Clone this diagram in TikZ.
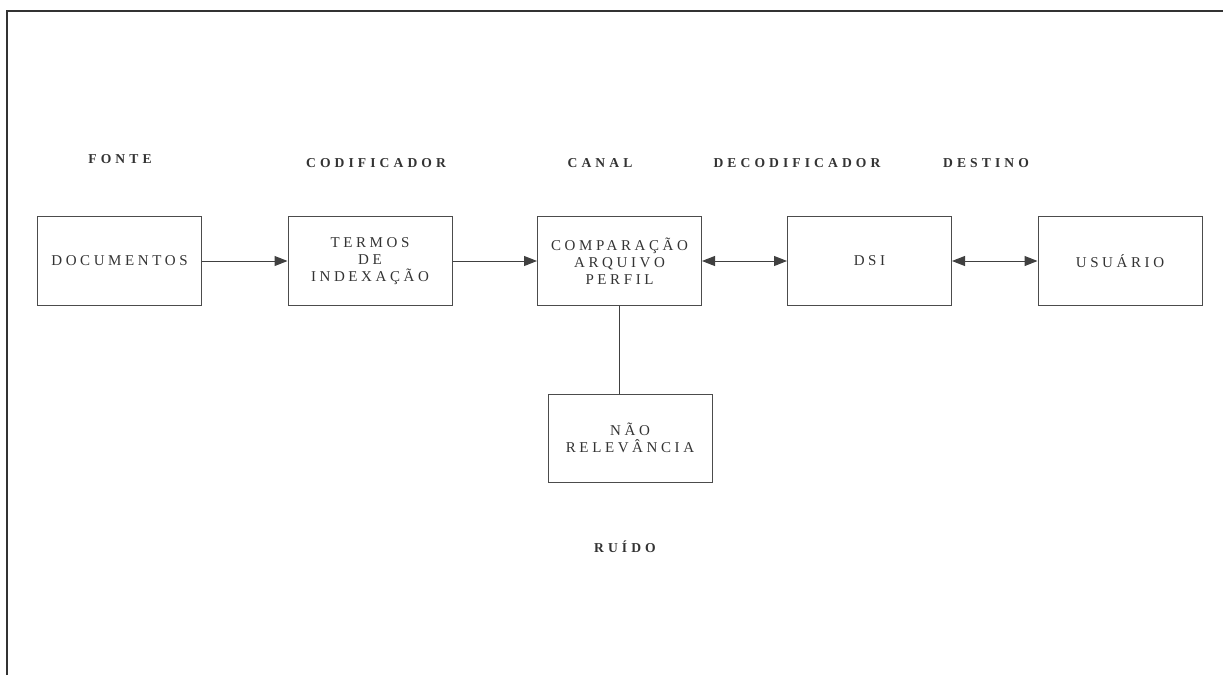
\documentclass[tikz,border=0pt]{standalone}
\usepackage{fontspec}
\setmainfont{Liberation Serif}
\usetikzlibrary{arrows.meta}
\newfontfamily\boxfont[LetterSpace=24]{Liberation Serif}
\newfontfamily\headfont[LetterSpace=30]{Liberation Serif}
\begin{document}
\begin{tikzpicture}[x=1pt,y=-1pt,
  bloco/.style={draw=black!70,line width=1pt,minimum width=164pt,minimum height=89pt,
    inner sep=0pt,align=center,text=black!80,font=\fontsize{15}{17}\boxfont},
  titulo/.style={font=\fontsize{13.6}{15}\headfont\bfseries,text=black!80},
  seta/.style={draw=black!75,line width=1pt,-{Triangle[length=13pt,width=10pt]}},
  seta2/.style={seta,{Triangle[length=13pt,width=10pt]}-{Triangle[length=13pt,width=10pt]}}]
\useasboundingbox (0,0) rectangle (1223,675);
\draw[black!80,line width=2.4pt] (7,675)--(7,11)--(1223,11);
% blocos
\node[bloco] (doc) at (119.5,261) {DOCUMENTOS};
\node[bloco] (idx) at (370,261) {TERMOS\\DE\\INDEXAÇÃO};
\node[bloco] (cmp) at (619.5,261) {COMPARAÇÃO\\ARQUIVO\\PERFIL};
\node[bloco] (dsi) at (869.5,261) {DSI};
\node[bloco] (usr) at (1120,261) {USUÁRIO};
\node[bloco,minimum height=88pt] (rel) at (630,438) {NÃO\\RELEVÂNCIA};
% titulos
\node[titulo] (fonte) at (120,159) {FONTE};
\node[titulo] (cod) at (376,163) {CODIFICADOR};
\node[titulo] (canal) at (600,163) {CANAL};
\node[titulo] (decod) at (797,163) {DECODIFICADOR};
\node[titulo] (dest) at (986,163) {DESTINO};
\node[titulo] (ruido) at (625,547) {RUÍDO};
% ligacoes
\draw[seta] (doc) -- (idx);
\draw[seta] (idx) -- (cmp);
\draw[seta2] (cmp) -- (dsi);
\draw[seta2] (dsi) -- (usr);
\draw[draw=black!75,line width=1pt] (cmp.south) -- (cmp.south |- rel.north);
\end{tikzpicture}
\end{document}
